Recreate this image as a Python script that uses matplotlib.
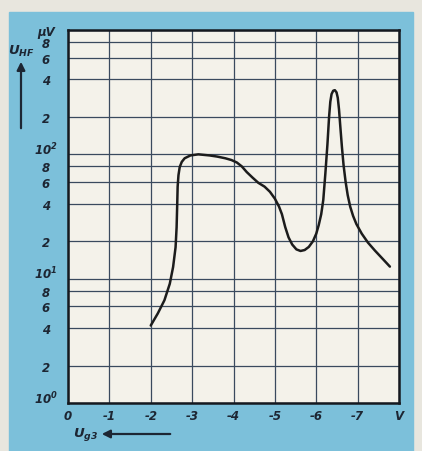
import matplotlib
matplotlib.use("Agg")
import matplotlib.pyplot as plt
from matplotlib.patches import Rectangle, FancyArrowPatch

# grid voltage U_g3 (V) and HF voltage U_HF (uV)
U_G3 = [-2.0, -2.17, -2.33, -2.46, -2.54, -2.60, -2.625, -2.64, -2.65, -2.67,
        -2.70, -2.75, -2.82, -2.96, -3.15, -3.42, -3.6, -3.8, -3.95, -4.08,
        -4.2, -4.32, -4.46, -4.6, -4.75, -4.88, -5.0, -5.1, -5.17, -5.25,
        -5.33, -5.42, -5.52, -5.62, -5.72, -5.82, -5.92, -6.0, -6.06, -6.12,
        -6.17, -6.22, -6.27, -6.31, -6.34, -6.37, -6.41, -6.45, -6.49, -6.52,
        -6.55, -6.58, -6.62, -6.66, -6.71, -6.76, -6.82, -6.89, -6.97, -7.1,
        -7.25, -7.42, -7.6, -7.78]
U_HF = [4.2, 5.25, 6.7, 9.1, 12.4, 17.9, 25.9, 40, 55, 68,
        79, 87, 93, 98, 100, 98, 96, 93, 90, 86,
        80, 72, 65, 59, 55, 50, 44, 38, 33, 26,
        21.5, 18.8, 17.2, 16.7, 17.0, 18.0, 20, 23, 27, 33,
        43, 70, 120, 200, 265, 305, 325, 328, 315, 285,
        230, 170, 115, 82, 60, 47, 38, 32, 27.5, 23,
        19.5, 16.8, 14.5, 12.5]

X_TICKS = [0, -1, -2, -3, -4, -5, -6, -7, -8]
X_LABELS = ["0", "-1", "-2", "-3", "-4", "-5", "-6", "-7", "V"]
Y_TICKS = [1, 2, 4, 6, 8, 10, 20, 40, 60, 80, 100, 200, 400, 600, 800, 1000]
Y_LABELS = ["$10^0$", "2", "4", "6", "8", "$10^1$", "2", "4", "6", "8",
            "$10^2$", "2", "4", "6", "8", "\u00b5V"]

BLUE = "#7cc0da"
PAPER = "#f4f2ea"
INK = "#1d2633"
GRID = "#3a4a5e"

plt.rcParams["mathtext.fontset"] = "custom"
plt.rcParams["mathtext.rm"] = "DejaVu Sans:italic:bold"
plt.rcParams["mathtext.it"] = "DejaVu Sans:italic:bold"
plt.rcParams["mathtext.default"] = "it"

W, H = 422, 452
fig = plt.figure(figsize=(W / 100, H / 100), dpi=100)
fig.patch.set_facecolor("#e8e6de")
fig.patches.append(Rectangle((9 / W, 0), (413 - 9) / W, (H - 13) / H,
                             transform=fig.transFigure, color=BLUE, zorder=-5))

ax = fig.add_axes([68 / W, 1 - 404 / H, (399 - 68) / W, (404 - 31) / H])
ax.set_zorder(2)
ax.set_facecolor(PAPER)
ax.set_yscale("log")
ax.set_xlim(0, -8)
ax.set_ylim(1, 1000)

ax.set_xticks(X_TICKS)
ax.set_xticklabels(X_LABELS)
ax.set_yticks(Y_TICKS)
ax.set_yticklabels(Y_LABELS)
ax.minorticks_off()
ax.tick_params(length=0, colors=INK, labelsize=8.5)
ax.tick_params(axis="x", pad=4)
ax.tick_params(axis="y", pad=16)
for val, lab in zip(Y_TICKS, ax.get_yticklabels()):
    lab.set_horizontalalignment("center")
    if val in (1, 10, 100):
        lab.set_verticalalignment("baseline")
for lab in ax.get_xticklabels() + ax.get_yticklabels():
    lab.set_fontstyle("italic")
    lab.set_fontweight("bold")

ax.grid(True, color=GRID, lw=0.9)
for s in ax.spines.values():
    s.set_color("#15191f")
    s.set_linewidth(1.8)

ax.plot(U_G3, U_HF, color="#1c1c1c", lw=1.8,
        solid_joinstyle="round", solid_capstyle="round", zorder=3)

# axis names with arrows
fig.text(21 / W, 1 - 51 / H, "$U_{HF}$", ha="center", va="center",
         fontsize=9.5, color=INK)
fig.add_artist(FancyArrowPatch((21 / W, 1 - 132 / H), (21 / W, 1 - 60 / H),
                               transform=fig.transFigure, arrowstyle="-|>",
                               mutation_scale=12, color=INK, lw=1.6))
fig.text(86 / W, 1 - 435 / H, "$U_{g3}$", ha="center", va="center",
         fontsize=9.5, color=INK)
fig.add_artist(FancyArrowPatch((173 / W, 1 - 435 / H), (99 / W, 1 - 435 / H),
                               transform=fig.transFigure, arrowstyle="-|>",
                               mutation_scale=12, color=INK, lw=1.6))

fig.savefig("out.png", dpi=100, facecolor=fig.get_facecolor())
